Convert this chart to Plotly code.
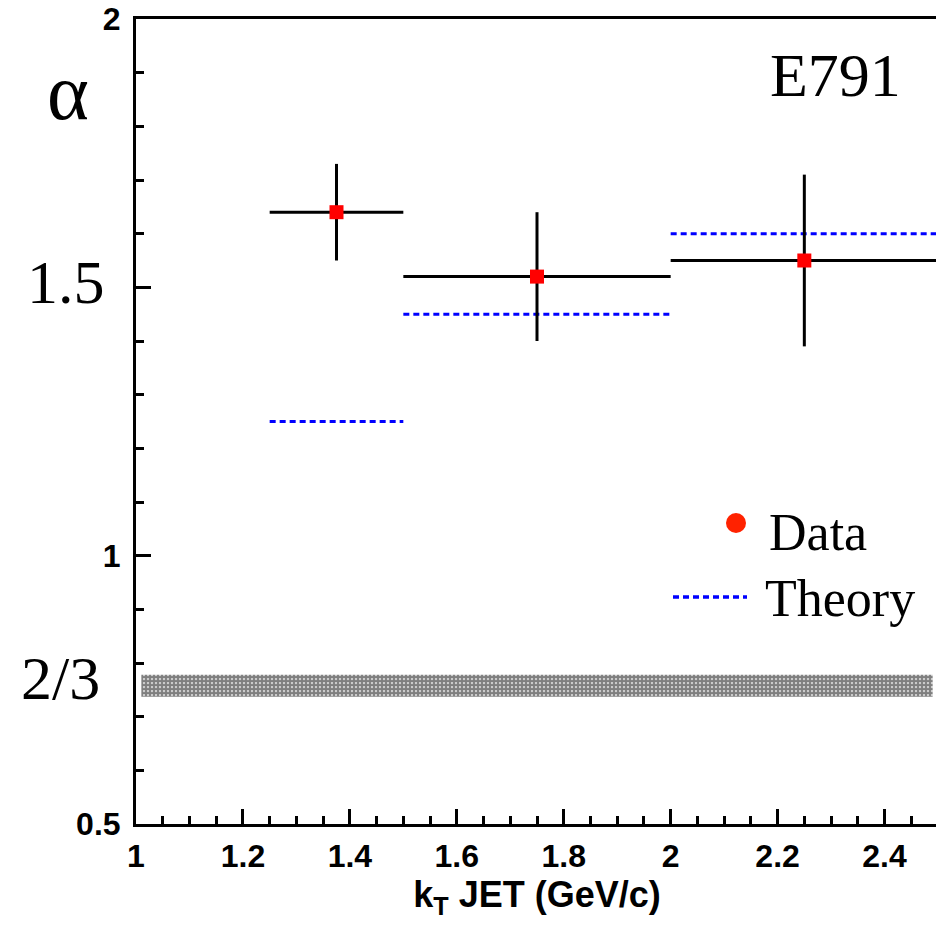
import plotly.graph_objects as go

# ---- data ----
bin_lo = [1.25, 1.5, 2.0]
bin_hi = [1.5, 2.0, 2.5]
data_alpha = [1.64, 1.52, 1.55]
data_err = [0.09, 0.12, 0.16]
theory_alpha = [1.25, 1.45, 1.60]
band_x = [1.01, 2.49]
band_y = [0.737, 0.778]

x_ticks = [1, 1.2, 1.4, 1.6, 1.8, 2, 2.2, 2.4]
x_ticklabels = ["1", "1.2", "1.4", "1.6", "1.8", "2", "2.2", "2.4"]
y_ticks = [0.5, 1, 1.5, 2]
y_ticklabels = ["0.5", "1", "", "2"]

bin_mid = [(a + b) / 2 for a, b in zip(bin_lo, bin_hi)]
bin_half = [(b - a) / 2 for a, b in zip(bin_lo, bin_hi)]

fig = go.Figure()

# hatched 2/3 band
fig.add_trace(go.Scatter(
    x=[band_x[0], band_x[1], band_x[1], band_x[0], band_x[0]],
    y=[band_y[0], band_y[0], band_y[1], band_y[1], band_y[0]],
    mode="lines", line=dict(width=0), fill="toself",
    fillcolor="rgba(0,0,0,0)",
    fillpattern=dict(shape=".", size=4, solidity=0.8, fgcolor="black", bgcolor="white"),
    showlegend=False, hoverinfo="skip"))

# theory segments
tx, ty = [], []
for lo, hi, t in zip(bin_lo, bin_hi, theory_alpha):
    tx += [lo, hi, None]
    ty += [t, t, None]
fig.add_trace(go.Scatter(x=tx, y=ty, mode="lines",
                         line=dict(color="#0000ff", width=3, dash="6px,4px"),
                         showlegend=False, hoverinfo="skip"))

# data with error bars
fig.add_trace(go.Scatter(
    x=bin_mid, y=data_alpha, mode="markers",
    marker=dict(symbol="square", size=14, color="#ff0000"),
    error_x=dict(type="data", array=bin_half, color="black", thickness=3, width=0),
    error_y=dict(type="data", array=data_err, color="black", thickness=3, width=0),
    showlegend=False))

serif = "Liberation Serif, Times New Roman, serif"
sans = "Liberation Sans, Arial, Helvetica, sans-serif"

# positions in page pixels
annotations = [
    dict(text="E791", x=835, y=75, font=dict(family=serif, size=62, color="black")),
    dict(text="α", x=68, y=92, font=dict(family=serif, size=80, color="black")),
    dict(text="1.5", x=66, y=282, font=dict(family=serif, size=62, color="black")),
    dict(text="2/3", x=60, y=678, font=dict(family=serif, size=62, color="black")),
    dict(text="Data", x=818, y=532, font=dict(family=serif, size=52, color="black")),
    dict(text="Theory", x=840, y=598, font=dict(family=serif, size=52, color="black")),
]
OFF = 8  # page body margin
W, H = 932, 912
L, R, T, B = 128, 2, 11, 96
pw, ph = W - L - R, H - T - B


def px2paper(x, y):
    x -= OFF
    y -= OFF
    return (x - L) / pw, (H - B - y) / ph


ann_list = []
for a in annotations:
    px, py = px2paper(a["x"], a["y"])
    ann_list.append(dict(text=a["text"], x=px, y=py, xref="paper", yref="paper",
                         xanchor="center", yanchor="middle", showarrow=False,
                         font=a["font"]))

shapes = []
# legend glyphs
cx, cy = px2paper(736, 523)
rx, ry = 10 / pw, 10 / ph
shapes.append(dict(type="circle", xref="paper", yref="paper",
                   x0=cx - rx, x1=cx + rx, y0=cy - ry, y1=cy + ry,
                   fillcolor="#ff2200", line=dict(width=0)))
lx0, ly = px2paper(673, 597)
lx1, _ = px2paper(747, 597)
shapes.append(dict(type="line", xref="paper", yref="paper",
                   x0=lx0, x1=lx1, y0=ly, y1=ly,
                   line=dict(color="#0000ff", width=3.5, dash="6px,4px")))

fig.update_layout(
    width=W, height=H,
    margin=dict(l=L, r=R, t=T, b=B, autoexpand=False),
    plot_bgcolor="white", paper_bgcolor="white",
    showlegend=False,
    annotations=ann_list,
    shapes=shapes,
    xaxis=dict(range=[1, 2.5], showgrid=False, zeroline=False, automargin=False,
               showline=True, linecolor="black", linewidth=3, mirror=True,
               tickmode="array", tickvals=x_ticks, ticktext=x_ticklabels,
               ticks="inside", ticklen=15, tickwidth=3, tickcolor="black",
               minor=dict(dtick=0.05, tick0=1, ticks="inside", ticklen=8, tickwidth=3, tickcolor="black", showgrid=False),
               tickfont=dict(family=sans, size=32, color="black", weight="bold"),
               ticklabelstandoff=2, ticklabeloverflow="allow",
               title=dict(text="k<sub>T</sub> JET (GeV/c)",
                          font=dict(family=sans, size=36, color="black", weight="bold"),
                          standoff=14)),
    yaxis=dict(range=[0.5, 2], showgrid=False, zeroline=False, automargin=False,
               showline=True, linecolor="black", linewidth=3, mirror=True,
               tickmode="array", tickvals=y_ticks, ticktext=y_ticklabels,
               ticks="inside", ticklen=15, tickwidth=3, tickcolor="black",
               minor=dict(dtick=0.1, tick0=0.5, ticks="inside", ticklen=8, tickwidth=3, tickcolor="black", showgrid=False),
               tickfont=dict(family=sans, size=32, color="black", weight="bold"),
               ticklabelstandoff=6, ticklabeloverflow="allow"),
)

fig.write_html("out.html")
